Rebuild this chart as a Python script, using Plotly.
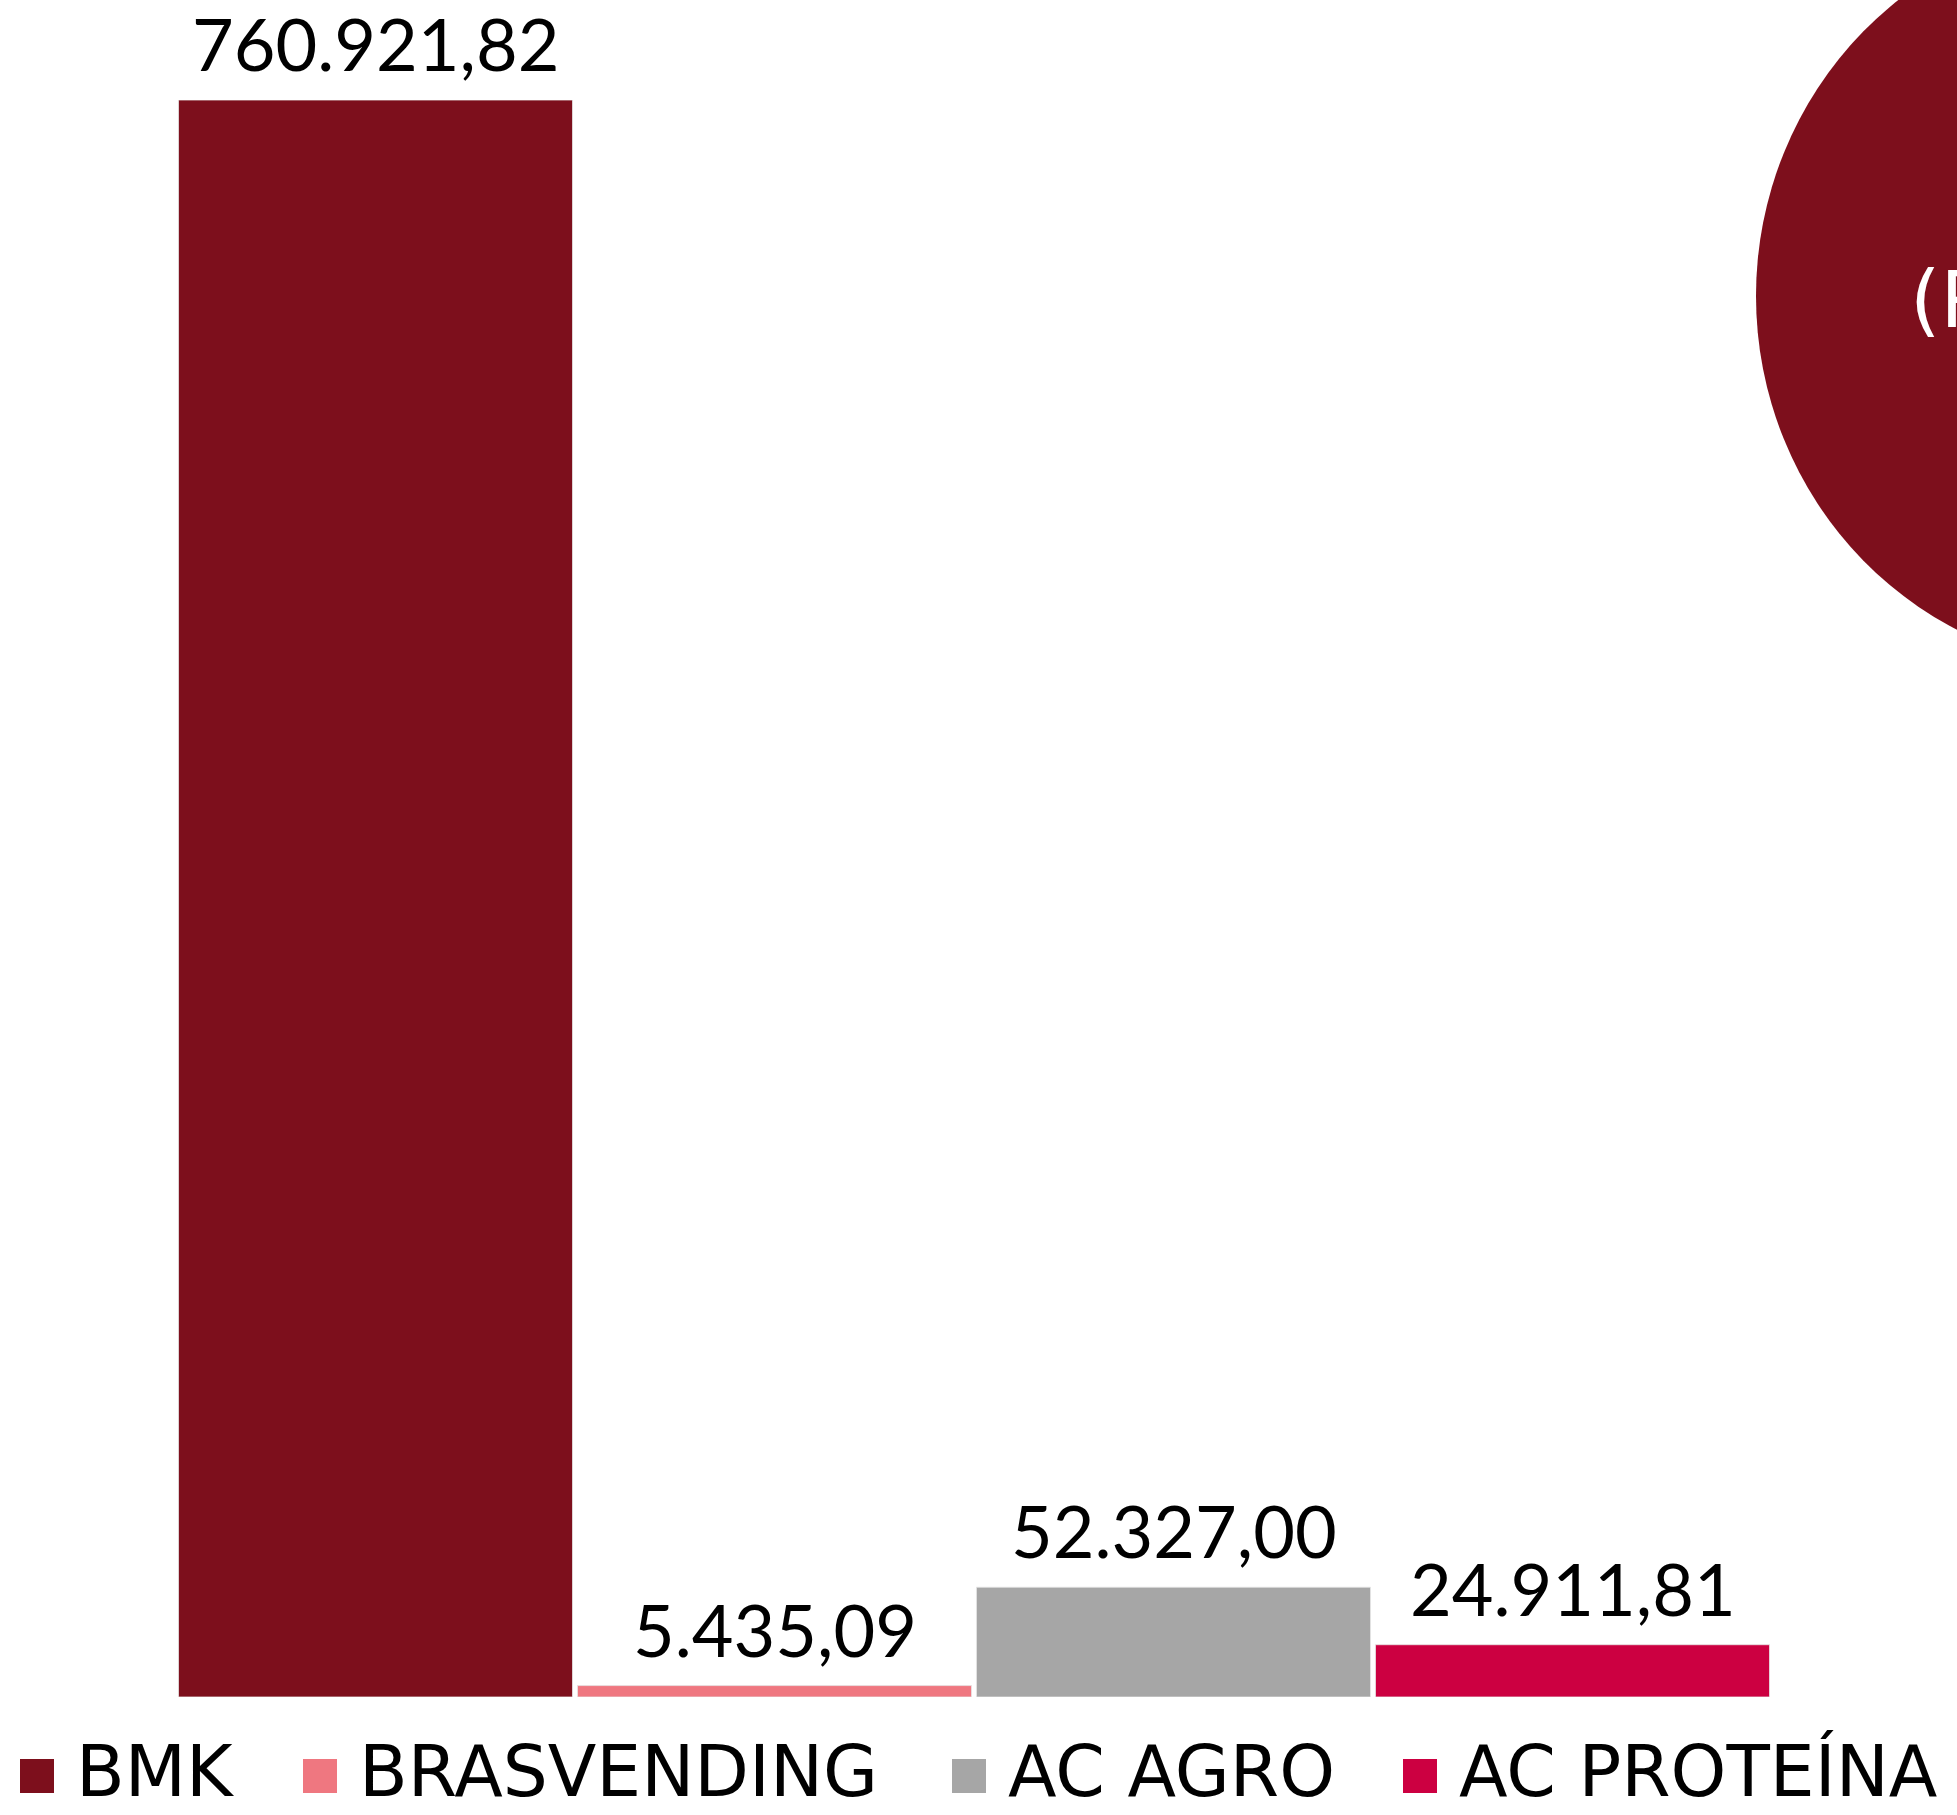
import plotly.graph_objects as go

# ---- data ----
categories = ["BMK", "BRASVENDING", "AC AGRO", "AC PROTEÍNA"]
values = [760921.82, 5435.09, 52327.00, 24911.81]
colors = ["#7D0F1C", "#EF7780", "#A6A6A6", "#CC0041"]
unit_label = "(R$)"

# ---- layout geometry (pixels) ----
W, H = 1957, 1815
L, R, T, B = 176, 185, 100, 118
PW, PH = W - L - R, H - T - B


def px_x(px):
    return (px - L) / PW


def px_y(py):
    return (H - B - py) / PH


def br_fmt(v):
    s = f"{v:,.2f}"
    return s.replace(",", "X").replace(".", ",").replace("X", ".")


fig = go.Figure()
for c, v, col in zip(categories, values, colors):
    fig.add_trace(go.Bar(
        x=[c], y=[v], name=c,
        marker=dict(color=col, line=dict(width=1, color="rgba(230,230,230,0.8)")),
        showlegend=False, hoverinfo="skip",
    ))

# value labels above bars
annotations = []
for c, v in zip(categories, values):
    annotations.append(dict(
        x=c, y=v, xref="x", yref="y", text=br_fmt(v), showarrow=False,
        xanchor="center", yanchor="bottom", yshift=12,
        font=dict(family="Lato", size=72, color="#000000"),
    ))

# custom legend (large square swatches)
legend_sq_x = [20, 303, 952, 1403]
sq = 34
legend_cy = 1776
shapes = []
for c, col, lx in zip(categories, colors, legend_sq_x):
    shapes.append(dict(
        type="rect", xref="paper", yref="paper",
        x0=px_x(lx), x1=px_x(lx + sq),
        y0=px_y(legend_cy + sq / 2), y1=px_y(legend_cy - sq / 2),
        fillcolor=col, line=dict(width=0), layer="above",
    ))
    annotations.append(dict(
        x=px_x(lx + sq + 20), y=px_y(1771), xref="paper", yref="paper",
        text=c, showarrow=False, xanchor="left", yanchor="middle",
        font=dict(family="DejaVu Sans", size=71, color="#000000"),
    ))

# partial ellipse at top right
cx, cy, ax_, by_ = 2122, 296, 366, 374
shapes.append(dict(
    type="circle", xref="paper", yref="paper",
    x0=px_x(cx - ax_), x1=px_x(cx + ax_),
    y0=px_y(cy + by_), y1=px_y(cy - by_),
    fillcolor=colors[0], line=dict(width=0), layer="above",
))
annotations.append(dict(
    x=px_x(1908), y=px_y(300), xref="paper", yref="paper",
    text=unit_label, showarrow=False, xanchor="left", yanchor="middle",
    font=dict(family="DejaVu Sans", size=78, color="#FFFFFF"),
))

fig.update_layout(
    width=W, height=H,
    margin=dict(l=L, r=R, t=T, b=B, pad=0),
    paper_bgcolor="white", plot_bgcolor="white",
    barmode="overlay", bargap=0.0125,
    xaxis=dict(visible=False, range=[-0.5, 3.5], type="category",
               categoryorder="array", categoryarray=categories),
    yaxis=dict(visible=False, range=[0, max(values)]),
    shapes=shapes, annotations=annotations,
    showlegend=False,
)

fig.write_html(
    "out.html",
    config={"displayModeBar": False},
    post_script="document.body.style.margin='0';document.body.style.overflow='hidden';",
)
